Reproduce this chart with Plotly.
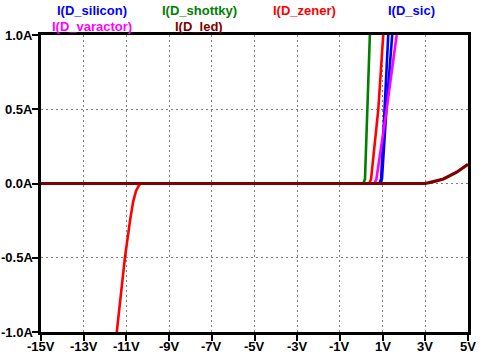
import plotly.graph_objects as go

# Data (V, A)
v_silicon = [-15, 0.85, 0.93, 1.11, 1.27, 1.35]
i_silicon = [0, 0, 0.03, 0.5, 1.0, 1.25]

v_shottky = [-15, 0.10, 0.175, 0.30, 0.41, 0.45]
i_shottky = [0, 0, 0.03, 0.5, 1.0, 1.2]

v_zener = [-15, -11.6, -11.45, -11.07, -10.83, -10.68, -10.55, -10.4, -10.3, 0.38, 0.46, 0.80, 1.03, 1.1]
i_zener = [-1.4, -1.3, -1.0, -0.5, -0.25, -0.12, -0.05, -0.01, 0, 0, 0.03, 0.5, 1.0, 1.15]

v_sic = [-15, 0.88, 0.97, 1.18, 1.45, 1.55]
i_sic = [0, 0, 0.03, 0.5, 1.0, 1.2]

v_varactor = [-15, 0.62, 0.71, 1.19, 1.66, 1.75]
i_varactor = [0, 0, 0.03, 0.5, 1.0, 1.1]

v_led = [-15, 3.0, 3.38, 3.85, 4.47, 5.0]
i_led = [0, 0, 0.013, 0.03, 0.076, 0.13]

series = [
    ("I(D_silicon)", v_silicon, i_silicon, "#0000FF"),
    ("I(D_shottky)", v_shottky, i_shottky, "#008000"),
    ("I(D_zener)", v_zener, i_zener, "#FF0000"),
    ("I(D_sic)", v_sic, i_sic, "#0000FF"),
    ("I(D_varactor)", v_varactor, i_varactor, "#FF00FF"),
    ("I(D_led)", v_led, i_led, "#800000"),
]

x_ticks = [-15, -13, -11, -9, -7, -5, -3, -1, 1, 3, 5]
x_labels = ["-15V", "-13V", "-11V", "-9V", "-7V", "-5V", "-3V", "-1V", "1V", "3V", "5V"]
y_ticks = [-1.0, -0.5, 0.0, 0.5, 1.0]
y_labels = ["-1.0A", "-0.5A", "0.0A", "0.5A", "1.0A"]

# legend label placement (paper coords)
label_pos = {
    "I(D_silicon)": (0.1206, 1.081),
    "I(D_shottky)": (0.371, 1.081),
    "I(D_zener)": (0.618, 1.081),
    "I(D_sic)": (0.868, 1.081),
    "I(D_varactor)": (0.1206, 1.030),
    "I(D_led)": (0.371, 1.030),
}

FONT = "Liberation Sans"
tick_font = dict(family=FONT, size=13, color="black", weight="bold")

fig = go.Figure()
for name, v, i, c in series:
    w = 3.2 if name == "I(D_led)" else 2.6
    fig.add_trace(go.Scatter(x=v, y=i, mode="lines", name=name,
                             line=dict(color=c, width=w), showlegend=False))

for name, v, i, c in series:
    px, py = label_pos[name]
    fig.add_annotation(x=px, y=py, xref="paper", yref="paper", text=name,
                       showarrow=False, xanchor="center", yanchor="middle",
                       font=dict(family=FONT, size=13, color=c, weight="bold"))

# tick labels placed via the axes' own scales
for tv, tl in zip(x_ticks, x_labels):
    fig.add_annotation(x=tv, y=0, xref="x", yref="paper", text=tl, showarrow=False,
                       xanchor="center", yanchor="top", yshift=-5, font=tick_font)
for tv, tl in zip(y_ticks, y_labels):
    fig.add_annotation(x=0, y=tv, xref="paper", yref="y", text=tl, showarrow=False,
                       xanchor="right", yanchor="middle", xshift=-6, font=tick_font)

axis_common = dict(
    showline=True, linewidth=3, linecolor="black", mirror=True,
    ticks="outside", ticklen=6, tickwidth=2, tickcolor="black",
    showgrid=True, gridcolor="#808080", gridwidth=1, griddash="2px,3px",
    zeroline=False, automargin=False, showticklabels=False,
)

fig.update_xaxes(range=[-15, 5], tickmode="array", tickvals=x_ticks, **axis_common)
fig.update_yaxes(range=[-1.0, 1.0], tickmode="array", tickvals=y_ticks, **axis_common)

fig.update_layout(
    width=482, height=357,
    margin=dict(l=41, r=14, t=35, b=25),
    paper_bgcolor="white", plot_bgcolor="white",
    font=dict(family=FONT, size=13, color="black"),
)

fig.write_html("out.html")
